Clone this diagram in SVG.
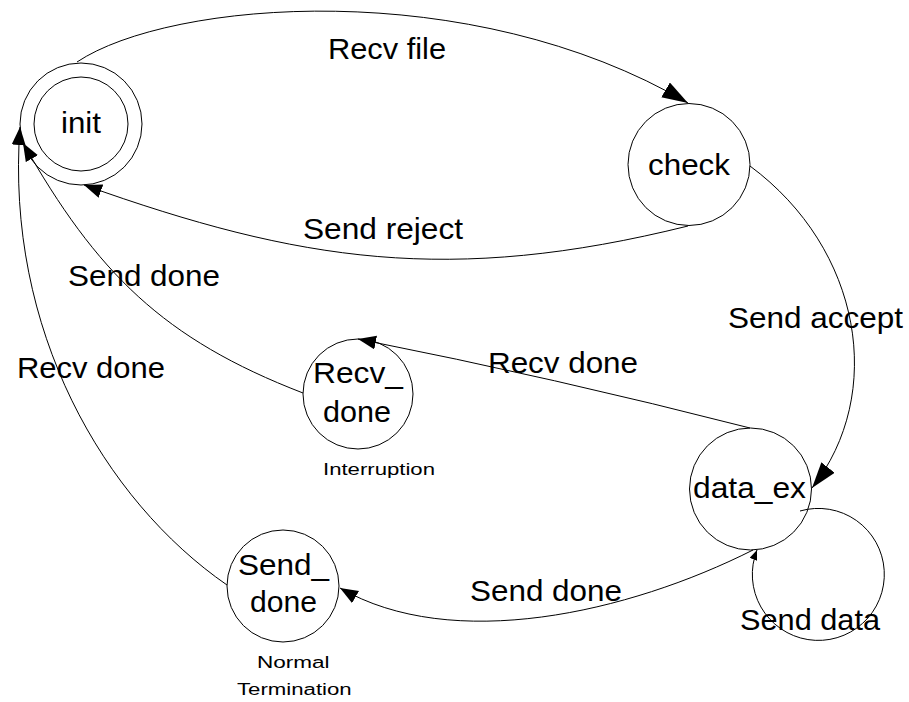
<svg xmlns="http://www.w3.org/2000/svg" width="909" height="702" viewBox="0 0 909 702">
<defs>
<style>
.node{fill:none;stroke:#000;stroke-width:1}
.edge{fill:none;stroke:#000;stroke-width:1}
text{font-family:"Liberation Sans",Arial,sans-serif;fill:#000}
.big{font-size:29px}
.small{font-size:16px}
</style>
<marker id="arrowL" markerUnits="userSpaceOnUse" markerWidth="26" markerHeight="18" refX="26" refY="8.5" orient="auto">
<path d="M0,0 L26,8.5 L0,17 Z" fill="#000"/>
</marker>
<marker id="arrowM" markerUnits="userSpaceOnUse" markerWidth="18" markerHeight="15" refX="18" refY="7" orient="auto">
<path d="M0,0 L18,7 L0,14 Z" fill="#000"/>
</marker>
<marker id="arrowS" markerUnits="userSpaceOnUse" markerWidth="10" markerHeight="8" refX="10" refY="4" orient="auto">
<path d="M0,0 L10,4 L0,8 Z" fill="#000"/>
</marker>
</defs>
<rect width="909" height="702" fill="#fff"/>

<g id="connectors">
<g id="e-recv-file">
<path class="edge" d="M77,62 C170,0 470,-25 688,103" marker-end="url(#arrowL)"/>
<text class="big" x="328" y="59" textLength="118" lengthAdjust="spacingAndGlyphs">Recv file</text>
</g>
<g id="e-send-reject">
<path class="edge" d="M688,226 C450,285 300,262 84,185" marker-end="url(#arrowM)"/>
<text class="big" x="303" y="239" textLength="160" lengthAdjust="spacingAndGlyphs">Send reject</text>
</g>
<g id="e-send-accept">
<path class="edge" d="M750,166 C862,249 886,394 812,488" marker-end="url(#arrowL)"/>
<text class="big" x="728" y="328" textLength="175" lengthAdjust="spacingAndGlyphs">Send accept</text>
</g>
<g id="e-recv-done-mid">
<path class="edge" d="M750,428 Q555,378 358,339" marker-end="url(#arrowM)"/>
<text class="big" x="488" y="373" textLength="150" lengthAdjust="spacingAndGlyphs">Recv done</text>
</g>
<g id="e-send-done-bottom">
<path class="edge" d="M753,550 C628,613 452,653 340,588" marker-end="url(#arrowM)"/>
<text class="big" x="470" y="601" textLength="152" lengthAdjust="spacingAndGlyphs">Send done</text>
</g>
<g id="e-send-data">
<path class="edge" d="M800,511 A66,66 0 1 1 757,550" marker-end="url(#arrowS)"/>
<text class="big" x="740" y="630" textLength="140" lengthAdjust="spacingAndGlyphs">Send data</text>
</g>
<g id="e-send-done-left">
<path class="edge" d="M303,393 C163,339 97,273 23,143" marker-end="url(#arrowM)"/>
<text class="big" x="68" y="286" textLength="152" lengthAdjust="spacingAndGlyphs">Send done</text>
</g>
<g id="e-recv-done-left">
<path class="edge" d="M227,585 C104,500 5,330 20,127" marker-end="url(#arrowM)"/>
<text class="big" x="17" y="378" textLength="148" lengthAdjust="spacingAndGlyphs">Recv done</text>
</g>
</g>

<g id="init">
<circle class="node" cx="81" cy="124" r="61"/>
<circle class="node" cx="81" cy="124" r="47"/>
<text class="big" x="61" y="133" textLength="40" lengthAdjust="spacingAndGlyphs">init</text>
</g>
<g id="check">
<circle class="node" cx="689" cy="164.5" r="61"/>
<text class="big" x="648" y="175" textLength="82" lengthAdjust="spacingAndGlyphs">check</text>
</g>
<g id="recv_done">
<circle class="node" cx="358" cy="394" r="55"/>
<text class="big" x="313" y="383" textLength="90" lengthAdjust="spacingAndGlyphs">Recv_</text>
<text class="big" x="323" y="421.5" textLength="68" lengthAdjust="spacingAndGlyphs">done</text>
<text class="small" x="323" y="475" textLength="112" lengthAdjust="spacingAndGlyphs">Interruption</text>
</g>
<g id="data_ex">
<circle class="node" cx="750.5" cy="489" r="61"/>
<text class="big" x="693" y="498" textLength="113" lengthAdjust="spacingAndGlyphs">data_ex</text>
</g>
<g id="send_done">
<circle class="node" cx="283" cy="586" r="56"/>
<text class="big" x="238" y="575" textLength="91" lengthAdjust="spacingAndGlyphs">Send_</text>
<text class="big" x="250" y="611.5" textLength="67" lengthAdjust="spacingAndGlyphs">done</text>
<text class="small" x="257" y="668" textLength="72.6" lengthAdjust="spacingAndGlyphs">Normal</text>
<text class="small" x="237" y="695" textLength="114.7" lengthAdjust="spacingAndGlyphs">Termination</text>
</g>
</svg>
